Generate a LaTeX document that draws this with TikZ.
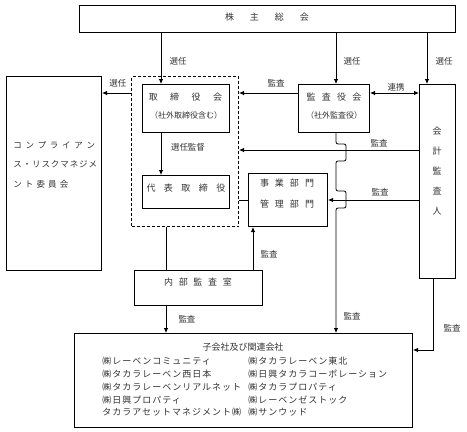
\documentclass[tikz,border=0pt]{standalone}
\usepackage{fontspec}
\setmainfont{Noto Sans CJK JP}
\usetikzlibrary{arrows.meta}
\newlength\gw
\newcommand\gsp{\hspace{\gw}}
\begin{document}
\begin{tikzpicture}[x=1pt,y=-1pt, line width=0.8pt,
  >={Latex[length=5pt,width=4.5pt]},
  box/.style={draw, line width=1pt, inner sep=0pt, anchor=north west},
  dbox/.style={draw, line width=1pt, dash pattern=on 3pt off 2pt, inner sep=0pt, anchor=north west},
  lbl/.style={font=\fontsize{8.5}{10}\selectfont, inner sep=0pt, text=black!80},
  txt/.style={font=\fontsize{9}{10}\selectfont, inner sep=0pt, text=black!80},
  stxt/.style={font=\fontsize{8}{10}\selectfont, inner sep=0pt, text=black!80},
  ltxt/.style={font=\fontsize{9}{10}\selectfont\addfontfeature{LetterSpace=11}, inner sep=0pt, anchor=west, text=black!80},
  ctxt/.style={font=\fontsize{8.5}{10}\selectfont, inner sep=0pt, anchor=west, text=black!80}]
\useasboundingbox (0,0) rectangle (467,432);
% boxes
\node[box, minimum width=376pt, minimum height=27pt] (top) at (79,5) {};
\node[box, minimum width=95pt, minimum height=194pt] (comp) at (6,76) {};
\node[dbox, minimum width=107pt, minimum height=150pt] (dashed) at (131,76) {};
\node[box, minimum width=87pt, minimum height=48pt] (board) at (142,84) {};
\node[box, minimum width=87pt, minimum height=33pt] (rep) at (142,175) {};
\node[box, minimum width=71pt, minimum height=48pt] (kansa) at (298,84) {};
\node[box, minimum width=36pt, minimum height=194pt] (audit) at (419,84) {};
\node[box, minimum width=79pt, minimum height=53pt] (jigyo) at (248,173) {};
\node[box, minimum width=128pt, minimum height=35pt] (naibu) at (134,270) {};
\node[box, minimum width=338pt, minimum height=94pt] (sub) at (74,333) {};
% guides
\coordinate (g1) at (161,0);
\coordinate (g2) at (336,0);
\coordinate (g3) at (427,0);
\coordinate (g4) at (166,0);
\coordinate (g5) at (253,0);
\coordinate (g6) at (433,0);
\coordinate (h1) at (0,93);
\coordinate (h2) at (0,150);
\coordinate (h3) at (0,200);
\coordinate (h4) at (0,350);
% connectors
\draw[->] (top.south -| g1) -- (board.north -| g1);
\draw[->] (top.south -| g2) -- (kansa.north -| g2);
\draw[->] (top.south -| g3) -- (audit.north -| g3);
\draw[->] (dashed.west |- h1) -- (comp.east |- h1);
\draw[->] (kansa.west |- h1) -- (dashed.east |- h1);
\draw[<->] (kansa.east |- h1) -- (audit.west |- h1);
\draw[->] (board.south -| g1) -- (rep.north -| g1);
\draw[->] (audit.west |- h2) -- (dashed.east |- h2);
\draw[->] (audit.west |- h3) -- (jigyo.east |- h3);
\draw (dashed.east |- h3) -- (jigyo.west |- h3);
\draw (dashed.south -| g4) -- (naibu.north -| g4);
\draw[->] (naibu.north -| g5) -- (jigyo.south -| g5);
\draw[->] (naibu.south -| g4) -- (sub.north -| g4);
\draw[->, rounded corners=2pt] (kansa.south -| g2) -- ++(0,11) -- ++(10,0) -- ++(0,17) -- ++(-10,0)
   -- ++(0,30) -- ++(10,0) -- ++(0,17) -- ++(-10,0) -- (sub.north -| g2);
\draw[->] (audit.south -| g6) |- (sub.east |- h4);
% labels
\node[lbl] (l1) at (178,61) {選任};
\node[lbl] (l2) at (352,61) {選任};
\node[lbl] (l3) at (444,61) {選任};
\node[lbl] (l4) at (118,83) {選任};
\node[lbl] (l5) at (276,83) {監査};
\node[lbl] (l6) at (396,87) {連携};
\node[lbl] (l7) at (188,147) {選任監督};
\node[lbl] (l8) at (379,143) {監査};
\node[lbl] (l9) at (380,192) {監査};
\node[lbl] (l10) at (269,254) {監査};
\node[lbl] (l11) at (187,319) {監査};
\node[lbl] (l12) at (352,316) {監査};
\node[lbl] (l13) at (452,328) {監査};
% box texts
\node[txt] (t1) at (267,17) {\setlength\gw{16pt}株\gsp 主\gsp 総\gsp 会};
\node[txt] (t2) at (185.5,97) {\setlength\gw{12.5pt}取\gsp 締\gsp 役\gsp 会};
\node[stxt] (t3) at (186,115) {（社外取締役含む）};
\node[txt] (t4) at (186,188) {\setlength\gw{8.5pt}代\gsp 表\gsp 取\gsp 締\gsp 役};
\node[txt] (t5) at (334,97) {\setlength\gw{6.3pt}監\gsp 査\gsp 役\gsp 会};
\node[stxt] (t6) at (334,115) {（社外監査役）};
\node[txt, align=center, font=\fontsize{9}{20}\selectfont] (t7) at (437,171) {会\\計\\監\\査\\人};
\node[txt] (t8) at (287,183) {\setlength\gw{6pt}事\gsp 業\gsp 部\gsp 門};
\node[txt] (t9) at (287,204) {\setlength\gw{6pt}管\gsp 理\gsp 部\gsp 門};
\node[txt] (t10) at (198,282) {\setlength\gw{5.7pt}内\gsp 部\gsp 監\gsp 査\gsp 室};
\node[ctxt] (c1) at (13,145) {\setlength\gw{3.7pt}コ\gsp ン\gsp プ\gsp ラ\gsp イ\gsp ア\gsp ン};
\node[ctxt] (c2) at (13,164) {\setlength\gw{0.9pt}ス\gsp ・\gsp リ\gsp ス\gsp ク\gsp マ\gsp ネ\gsp ジ\gsp メ};
\node[ctxt] (c3) at (13,184) {\setlength\gw{3.1pt}ン\gsp ト\gsp 委\gsp 員\gsp 会};
\node[txt] (s0) at (243,347) {子会社及び関連会社};
\node[ltxt] (s1) at (102,361) {㈱レーベンコミュニティ};
\node[ltxt] (s2) at (102,374) {㈱タカラレーベン西日本};
\node[ltxt] (s3) at (102,387) {㈱タカラレーベンリアルネット};
\node[ltxt] (s4) at (102,400) {㈱日興プロパティ};
\node[ltxt] (s5) at (102,412) {タカラアセットマネジメント㈱};
\node[ltxt] (s6) at (248,361) {㈱タカラレーベン東北};
\node[ltxt] (s7) at (248,374) {㈱日興タカラコーポレーション};
\node[ltxt] (s8) at (248,387) {㈱タカラプロパティ};
\node[ltxt] (s9) at (248,400) {㈱レーベンゼストック};
\node[ltxt] (s10) at (248,412) {㈱サンウッド};
\end{tikzpicture}
\end{document}
